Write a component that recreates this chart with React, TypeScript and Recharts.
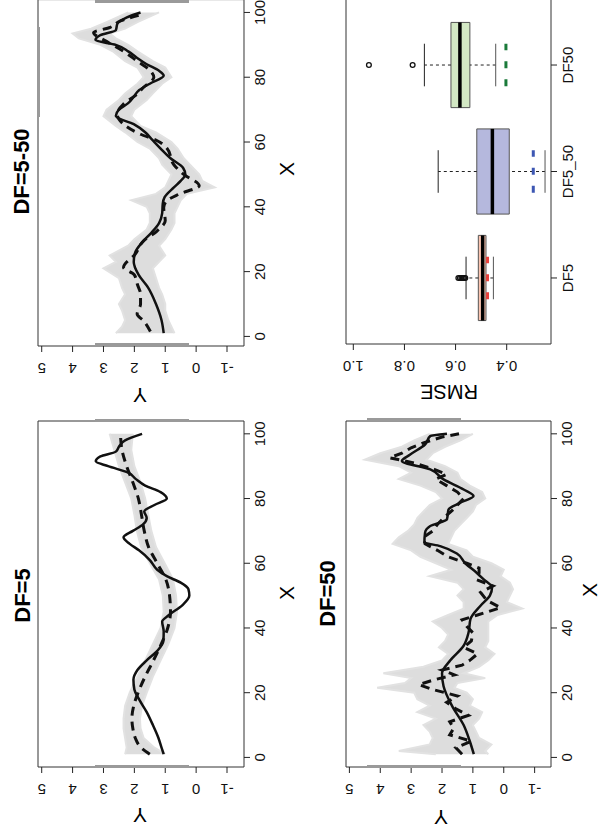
import React from "react";
import {
  ComposedChart,
  Line,
  Area,
  XAxis,
  YAxis,
  ReferenceArea,
  ReferenceLine,
  Scatter,
} from "recharts";

const FONT = "'Liberation Sans', Arial, Helvetica, sans-serif";

// axis ticks
const xTicks = [0, 20, 40, 60, 80, 100];
const yTicks = [-1, 0, 1, 2, 3, 4, 5];
const rmseTicks = [0.4, 0.6, 0.8, 1.0];

// DF=5 panel
const df5TrueX = [1, 3, 6, 10, 14, 18, 21, 24, 27, 30, 33, 36, 39, 42, 44, 47, 50, 52, 54, 56, 58, 61, 64, 66, 68, 70, 72, 74, 76, 78, 80, 82, 84, 86, 88, 90, 91.5, 93, 94.5, 96, 98, 100];
const df5TrueY = [1.05, 1.12, 1.22, 1.4, 1.6, 1.85, 2.0, 2.03, 1.9, 1.6, 1.25, 1.06, 1.05, 1.1, 0.88, 0.45, 0.22, 0.25, 0.5, 0.95, 1.26, 1.5, 1.85, 2.15, 2.35, 2.05, 1.72, 1.6, 1.68, 1.35, 0.95, 1.15, 1.65, 1.95, 2.2, 2.85, 3.25, 3.1, 2.6, 2.5, 2.3, 1.75];
const df5MeanX = [1, 3, 6, 9, 12, 16, 20, 25, 30, 35, 40, 45, 50, 55, 60, 65, 70, 75, 80, 85, 90, 95, 100];
const df5MeanY = [1.5, 1.78, 1.97, 2.05, 2.08, 2.02, 1.88, 1.65, 1.38, 1.13, 0.92, 0.83, 0.86, 0.98, 1.26, 1.54, 1.68, 1.77, 1.87, 2.05, 2.25, 2.4, 2.45];
const df5BandLo = [1.0, 1.35, 1.7, 1.8, 1.82, 1.75, 1.6, 1.4, 1.15, 0.9, 0.7, 0.62, 0.65, 0.75, 1.02, 1.3, 1.45, 1.55, 1.65, 1.8, 2.0, 2.1, 2.05];
const df5BandHi = [2.3, 2.25, 2.3, 2.35, 2.35, 2.3, 2.15, 1.9, 1.65, 1.4, 1.15, 1.05, 1.08, 1.2, 1.5, 1.78, 1.92, 2.0, 2.1, 2.3, 2.5, 2.65, 2.8];

// DF=5-50 panel
const mixTrueX = [1, 5, 10, 15, 19, 23, 26, 29, 32, 35, 38, 41, 43, 46, 48, 50, 52, 55, 58, 61, 63, 65.5, 68, 70, 72, 74, 76, 78, 80.5, 82, 84, 86, 88, 90, 91.5, 93, 94.5, 96.5, 98.5, 100];
const mixTrueY = [1.05, 1.12, 1.3, 1.55, 1.86, 2.02, 1.97, 1.75, 1.45, 1.2, 1.1, 1.08, 1.02, 0.72, 0.5, 0.35, 0.42, 0.83, 1.15, 1.45, 1.65, 2.02, 2.6, 2.5, 2.2, 2.02, 1.85, 1.5, 1.05, 1.2, 1.6, 1.92, 2.2, 2.6, 3.26, 3.1, 2.6, 2.55, 2.24, 1.8];
const mixMeanX = [1.5, 4.8, 6.9, 10, 13, 16, 19, 21.3, 25.4, 29.5, 32.6, 35.7, 39.8, 41.9, 43.9, 46.5, 50, 53, 58, 60.4, 62.4, 65.5, 68.6, 71.7, 74.8, 76.9, 80, 82, 85, 88, 91, 93.8, 95.4, 97.4, 99.5];
const mixMeanY = [1.48, 1.7, 1.91, 1.8, 1.8, 1.9, 2.0, 2.35, 1.97, 1.7, 1.26, 1.0, 1.05, 0.94, 0.56, -0.1, 0.4, 0.72, 0.94, 1.26, 1.8, 2.35, 2.56, 2.35, 1.91, 1.7, 1.37, 1.48, 1.91, 2.35, 2.89, 3.32, 2.78, 2.45, 1.7];
const mixBandX = [1, 3, 5, 8, 10, 13, 15, 18, 21, 23, 25, 28, 30, 33, 35, 38, 40, 42, 44, 46, 48, 50, 53, 55, 58, 60, 63, 65, 68, 70, 73, 75, 78, 80, 83, 85, 88, 90, 92, 93.5, 95, 97, 100];
const mixBandLo = [0.7, 0.8, 0.9, 1.0, 1.0, 1.1, 1.2, 1.3, 1.4, 1.2, 1.0, 1.2, 1.0, 0.8, 0.7, 0.7, 0.6, 0.5, 0.3, -0.6, -0.2, -0.1, 0.2, 0.4, 0.6, 0.8, 1.3, 1.8, 2.1, 2.0, 1.6, 1.4, 1.1, 0.8, 1.0, 1.4, 1.9, 2.2, 2.6, 2.8, 2.3, 1.9, 1.2];
const mixBandHi = [2.6, 2.4, 2.3, 2.4, 2.5, 2.3, 2.4, 2.5, 3.0, 2.6, 2.8, 2.2, 2.0, 1.6, 1.5, 1.5, 1.6, 2.1, 1.3, 1.0, 0.9, 0.8, 1.1, 1.2, 1.5, 1.9, 2.3, 2.6, 3.0, 2.9, 2.5, 2.3, 1.9, 1.7, 1.9, 2.3, 2.7, 3.1, 3.8, 4.0, 3.4, 2.9, 2.2];

// DF=50 panel
const df50TrueX = [1, 5, 10, 16, 22, 26, 30, 34.5, 38.6, 42.7, 46.8, 50, 52.5, 55, 57, 60, 63, 65.3, 66.5, 69.4, 71.5, 73.6, 76.6, 78.7, 80.8, 82.8, 85.9, 89, 91.6, 93.6, 96.7, 99.3, 100];
const df50TrueY = [0.97, 1.1, 1.3, 1.68, 1.95, 2.0, 1.73, 1.3, 1.14, 1.08, 0.76, 0.45, 0.38, 0.65, 0.87, 1.25, 1.52, 2.06, 2.57, 2.55, 2.38, 1.84, 1.79, 1.41, 0.98, 1.3, 1.95, 2.38, 3.3, 3.03, 2.55, 2.38, 1.84];
const df50MeanX = [1, 3, 5, 7, 9, 11, 13, 15, 17, 19, 21, 22.5, 24, 25.5, 27, 28.5, 30, 32, 34, 36, 38.5, 40.5, 42.5, 44, 46.3, 48.5, 51, 53, 55, 57, 58.5, 60, 62, 64, 66, 68, 70, 72, 74, 76.5, 78.5, 80, 82, 84, 86, 87.5, 89, 91, 92.6, 94, 95.7, 97.2, 99, 100];
const df50MeanY = [1.35, 1.55, 1.05, 1.75, 1.62, 1.75, 1.15, 1.55, 1.85, 1.5, 2.3, 2.75, 2.25, 1.6, 2.0, 1.35, 1.1, 0.85, 1.3, 1.05, 1.0, 1.2, 1.35, 0.85, 0.1, 0.55, 0.75, 0.35, 0.9, 0.8, 0.8, 1.2, 1.8, 2.15, 2.55, 2.6, 2.3, 2.15, 1.95, 1.65, 1.45, 1.3, 1.5, 1.85, 2.2, 1.85, 2.25, 2.9, 3.7, 3.3, 3.0, 2.6, 2.0, 1.45];
const df50BandX = [1, 2, 4, 6, 8, 10, 12, 14, 16, 18, 20, 21.5, 23, 24.5, 26, 28, 30, 32, 34, 36, 38, 40, 42, 44, 46, 48, 50, 52, 54, 56, 58, 60, 62, 64, 66, 68, 70, 72, 74, 76, 78, 80, 82, 84, 86, 88, 90, 92, 94, 96, 98, 100];
const df50BandLo = [0.5, 0.6, 0.4, 0.8, 0.9, 1.0, 0.8, 0.7, 1.1, 1.0, 1.2, 1.6, 1.5, 0.6, 1.3, 0.8, 0.5, 0.3, 0.6, 0.5, 0.5, 0.5, 0.5, 0.2, -0.6, -0.1, -0.2, -0.3, -0.2, 0.1, 0.0, 0.4, 1.0, 1.2, 1.8, 1.7, 1.6, 1.4, 1.2, 1.0, 0.9, 0.6, 0.7, 1.1, 1.4, 1.5, 1.9, 2.5, 2.3, 1.9, 1.4, 1.0];
const df50BandHi = [2.2, 3.4, 2.4, 2.3, 2.4, 2.6, 2.2, 2.8, 2.4, 2.8, 2.9, 4.1, 3.2, 3.0, 3.9, 2.6, 2.0, 1.8, 2.1, 1.9, 1.8, 2.0, 2.3, 1.8, 1.3, 1.3, 1.5, 1.3, 1.5, 2.4, 1.7, 2.2, 2.7, 3.0, 3.6, 3.4, 3.1, 2.9, 2.8, 2.6, 2.4, 2.0, 2.2, 2.7, 3.4, 3.0, 3.4, 4.5, 4.0, 3.3, 2.9, 2.4];

// RMSE boxplot
const boxCats = ["DF5", "DF5_50", "DF50"];
const boxQ1 = [0.481, 0.39, 0.544];
const boxMed = [0.494, 0.456, 0.583];
const boxQ3 = [0.511, 0.517, 0.618];
const whiskLo = [0.452, 0.25, 0.443];
const whiskHi = [0.559, 0.668, 0.722];
const refRmse = [0.475, 0.296, 0.403];
const outlierCat = [1, 1, 1, 1, 1, 1, 3, 3];
const outlierVal = [0.562, 0.567, 0.572, 0.577, 0.583, 0.589, 0.768, 0.939];

const boxFill = ["#fbc5b1", "#b5b8dd", "#d3e8c4"];
const refColor = ["#e8413c", "#3d57b3", "#1b7a3a"];

const pts = (xs: number[], ys: number[]) => xs.map((x, i) => ({ x, y: ys[i] }));
const bandPts = (xs: number[], lo: number[], hi: number[]) =>
  xs.map((x, i) => ({ x, band: [lo[i], hi[i]] }));

// R draws y tick labels parallel to the axis
const RotTick = (props: any) => {
  const { x, y, payload, fmt } = props;
  const label = fmt ? fmt(payload.value) : String(payload.value);
  return (
    <text
      x={x}
      y={y}
      transform={`rotate(-90 ${x} ${y})`}
      textAnchor="middle"
      fontSize={15}
      fontFamily={FONT}
      fill="#111"
    >
      {label}
    </text>
  );
};

const X_DOMAIN = [-2.96, 103.96];

function CurvePanel({ left, top, plotW, plotH, yDomain, band, truth, mean, meanLinear }: any) {
  return (
    <div style={{ position: "absolute", left, top }}>
      <ComposedChart
        width={73 + plotW + 3}
        height={38 + plotH + 56}
        margin={{ top: 38, right: 3, bottom: 26, left: 13 }}
      >
        <XAxis
          type="number"
          dataKey="x"
          domain={X_DOMAIN}
          ticks={xTicks}
          interval={0}
          allowDataOverflow
          axisLine={false}
          height={30}
          tickSize={6}
          tickMargin={4}
          tickLine={{ stroke: "#222" }}
          tick={{ fontSize: 15, fill: "#111", fontFamily: FONT }}
        />
        <YAxis
          type="number"
          domain={yDomain}
          ticks={yTicks}
          interval={0}
          allowDataOverflow
          axisLine={false}
          width={60}
          tickSize={6}
          tickMargin={11}
          tickLine={{ stroke: "#222" }}
          tick={(p: any) => <RotTick {...p} />}
        />
        <Area
          data={band}
          dataKey="band"
          type="linear"
          stroke="#e2e2e2"
          strokeWidth={2}
          fill="#d4d4d4"
          fillOpacity={0.8}
          isAnimationActive={false}
        />
        <Line
          data={truth}
          dataKey="y"
          type="monotone"
          stroke="#111"
          strokeWidth={2.5}
          dot={false}
          isAnimationActive={false}
        />
        <Line
          data={mean}
          dataKey="y"
          type={meanLinear ? "linear" : "monotone"}
          stroke="#111"
          strokeWidth={3}
          strokeDasharray="9 6"
          dot={false}
          isAnimationActive={false}
        />
        <ReferenceArea
          x1={X_DOMAIN[0]}
          x2={X_DOMAIN[1]}
          y1={yDomain[0]}
          y2={yDomain[1]}
          fill="none"
          stroke="#333"
          strokeWidth={1}
        />
      </ComposedChart>
    </div>
  );
}

const RMSE_DOMAIN = [0.2267, 1.0286];

function BoxPanel({ left, top }: any) {
  const outliers = outlierCat.map((c, i) => ({ x: c, y: outlierVal[i] }));
  const marks = boxCats.flatMap((c, i) => {
    const p = i + 1;
    return [
      <ReferenceLine key={`wu${i}`} segment={[{ x: p, y: boxQ3[i] }, { x: p, y: whiskHi[i] }]} stroke="#222" strokeDasharray="3 3" strokeWidth={1} />,
      <ReferenceLine key={`wl${i}`} segment={[{ x: p, y: whiskLo[i] }, { x: p, y: boxQ1[i] }]} stroke="#222" strokeDasharray="3 3" strokeWidth={1} />,
      <ReferenceLine key={`cu${i}`} segment={[{ x: p - 0.2, y: whiskHi[i] }, { x: p + 0.2, y: whiskHi[i] }]} stroke="#222" strokeWidth={1} />,
      <ReferenceLine key={`cl${i}`} segment={[{ x: p - 0.2, y: whiskLo[i] }, { x: p + 0.2, y: whiskLo[i] }]} stroke="#555" strokeWidth={1} />,
      <ReferenceArea key={`b${i}`} x1={p - 0.4} x2={p + 0.4} y1={boxQ1[i]} y2={boxQ3[i]} fill={boxFill[i]} fillOpacity={1} stroke="#555" strokeWidth={1} />,
      <ReferenceLine key={`m${i}`} segment={[{ x: p - 0.4, y: boxMed[i] }, { x: p + 0.4, y: boxMed[i] }]} stroke="#000" strokeWidth={3.5} />,
      <ReferenceLine key={`r${i}`} segment={[{ x: p - 0.2, y: refRmse[i] }, { x: p + 0.2, y: refRmse[i] }]} stroke={refColor[i]} strokeWidth={3} strokeDasharray="7 11" />,
    ];
  });
  return (
    <div style={{ position: "absolute", left, top }}>
      <ComposedChart
        width={73 + 345 + 3}
        height={38 + 205 + 56}
        margin={{ top: 38, right: 3, bottom: 26, left: 13 }}
      >
        <XAxis
          type="number"
          dataKey="x"
          domain={[0.38, 3.62]}
          ticks={[1, 2, 3]}
          interval={0}
          allowDataOverflow
          axisLine={false}
          height={30}
          tickSize={6}
          tickMargin={5}
          tickLine={{ stroke: "#222" }}
          tickFormatter={(v: number) => boxCats[v - 1]}
          tick={{ fontSize: 15, fill: "#111", fontFamily: FONT }}
        />
        <YAxis
          type="number"
          dataKey="y"
          domain={RMSE_DOMAIN}
          ticks={rmseTicks}
          interval={0}
          allowDataOverflow
          axisLine={false}
          width={60}
          tickSize={6}
          tickMargin={11}
          tickLine={{ stroke: "#222" }}
          tick={(p: any) => <RotTick {...p} fmt={(v: number) => v.toFixed(1)} />}
        />
        {marks}
        <Scatter
          data={outliers}
          dataKey="y"
          isAnimationActive={false}
          shape={(p: any) => (
            <circle cx={p.cx} cy={p.cy} r={2.4} fill="none" stroke="#111" strokeWidth={1.3} />
          )}
        />
        <ReferenceArea
          x1={0.38}
          x2={3.62}
          y1={RMSE_DOMAIN[0]}
          y2={RMSE_DOMAIN[1]}
          fill="none"
          stroke="#333"
          strokeWidth={1}
        />
      </ComposedChart>
    </div>
  );
}

function Txt({ x, y, text, size, bold, rot }: any) {
  return (
    <div
      style={{
        position: "absolute",
        left: x,
        top: y,
        transform: `translate(-50%, -50%)${rot ? " rotate(-90deg)" : ""}`,
        fontSize: size,
        fontWeight: bold ? 700 : 400,
        fontFamily: FONT,
        lineHeight: 1,
        whiteSpace: "nowrap",
        color: "#000",
      }}
    >
      {text}
    </div>
  );
}

// leftover grey edge marks seen in the figure
const edgeMarks = [
  { l: 72, t: 95, w: 3, h: 94 },
  { l: 418, t: 95, w: 3, h: 94 },
  { l: 494, t: 95, w: 3, h: 94 },
  { l: 837, t: 95, w: 3, h: 94 },
  { l: 723, t: 37, w: 90, h: 3 },
  { l: 72, t: 367, w: 3, h: 94 },
  { l: 419, t: 367, w: 3, h: 94 },
];

export default function App() {
  return (
    <div
      style={{
        position: "absolute",
        left: 0,
        top: 0,
        width: 600,
        height: 840,
        overflow: "hidden",
        background: "#fff",
      }}
    >
      {/* the figure is drawn landscape and turned a quarter turn, like the source */}
      <div
        style={{
          position: "absolute",
          left: 0,
          top: 0,
          width: 840,
          height: 600,
          transformOrigin: "0 0",
          transform: "rotate(-90deg) translateX(-840px)",
        }}
      >
        <CurvePanel
          left={0}
          top={0}
          plotW={346}
          plotH={206}
          yDomain={[-1.55, 5.12]}
          band={bandPts(df5MeanX, df5BandLo, df5BandHi)}
          truth={pts(df5TrueX, df5TrueY)}
          mean={pts(df5MeanX, df5MeanY)}
        />
        <CurvePanel
          left={421.4}
          top={0}
          plotW={346.4}
          plotH={206}
          yDomain={[-1.55, 5.12]}
          band={bandPts(mixBandX, mixBandLo, mixBandHi)}
          truth={pts(mixTrueX, mixTrueY)}
          mean={pts(mixMeanX, mixMeanY)}
        />
        <CurvePanel
          left={0}
          top={308}
          plotW={346}
          plotH={205}
          yDomain={[-1.53, 5.11]}
          band={bandPts(df50BandX, df50BandLo, df50BandHi)}
          truth={pts(df50TrueX, df50TrueY)}
          mean={pts(df50MeanX, df50MeanY)}
          meanLinear
        />
        <BoxPanel left={422.5} top={308} />

        {edgeMarks.map((m, i) => (
          <div
            key={i}
            style={{ position: "absolute", left: m.l, top: m.t, width: m.w, height: m.h, background: "#9a9a9a" }}
          />
        ))}

        <Txt x={244.5} y={22.5} text="DF=5" size={22} bold />
        <Txt x={668.5} y={22} text="DF=5-50" size={22} bold />
        <Txt x={246.5} y={328} text="DF=50" size={22} bold />

        <Txt x={247} y={285.5} text="X" size={21} />
        <Txt x={671} y={285.5} text="X" size={21} />
        <Txt x={250} y={589} text="X" size={21} />

        <Txt x={25} y={139.5} text="Y" size={21} rot />
        <Txt x={445} y={139.5} text="Y" size={21} rot />
        <Txt x={23} y={440.5} text="Y" size={21} rot />
        <Txt x={447.5} y={449} text="RMSE" size={20} rot />
      </div>
    </div>
  );
}
